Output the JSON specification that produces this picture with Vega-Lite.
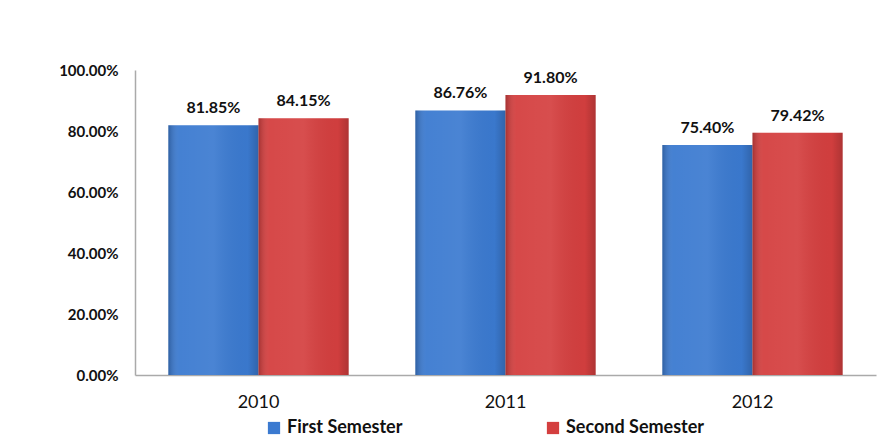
{
  "$schema": "https://vega.github.io/schema/vega-lite/v6.json",
  "width": 741,
  "height": 305,
  "padding": {"left": 58, "top": 63, "right": 10, "bottom": 10},
  "background": "white",
  "config": {
    "view": {"stroke": null},
    "font": "Lato"
  },
  "data": {
    "values": [
      {"year": "2010", "semester": "First Semester", "value": 0.8185},
      {"year": "2010", "semester": "Second Semester", "value": 0.8415},
      {"year": "2011", "semester": "First Semester", "value": 0.8676},
      {"year": "2011", "semester": "Second Semester", "value": 0.918},
      {"year": "2012", "semester": "First Semester", "value": 0.754},
      {"year": "2012", "semester": "Second Semester", "value": 0.7942}
    ]
  },
  "encoding": {
    "x": {
      "field": "year", "type": "nominal",
      "scale": {"paddingInner": 0.27, "paddingOuter": 0.135},
      "axis": {"title": null, "labelAngle": 0, "labelFontSize": 18, "labelColor": "#111", "labelPadding": 18, "ticks": false, "domainColor": "#aaa", "domainWidth": 1.5}
    },
    "xOffset": {"field": "semester", "type": "nominal", "scale": {"paddingInner": 0, "paddingOuter": 0}},
    "y": {
      "field": "value", "type": "quantitative",
      "scale": {"domain": [0, 1], "nice": false},
      "axis": {"title": null, "format": ".2%", "values": [0, 0.2, 0.4, 0.6, 0.8, 1], "labelOverlap": false, "grid": false, "ticks": false, "labelFontSize": 15, "labelFontWeight": "bold", "labelColor": "#111", "labelPadding": 17, "domainColor": "#aaa", "domainWidth": 1.5}
    }
  },
  "layer": [
    {
      "mark": {"type": "bar"},
      "encoding": {
        "color": {
          "field": "semester", "type": "nominal",
          "scale": {"domain": ["First Semester", "Second Semester"], "range": ["#3b7ad0", "#d43f3f"]},
          "legend": {
            "title": null, "orient": "none", "legendX": 130, "legendY": 349, "direction": "horizontal",
            "symbolType": "square", "symbolSize": 150, "symbolStrokeWidth": 0,
            "labelFontSize": 18, "labelFontWeight": "bold", "labelColor": "#111",
            "labelOffset": 4, "columnPadding": 141, "labelLimit": 300
          }
        }
      }
    },
    {
      "mark": {
        "type": "bar",
        "fill": {
          "gradient": "linear", "x1": 0, "x2": 1, "y1": 0, "y2": 0,
          "stops": [
            {"offset": 0, "color": "rgba(0,0,0,0.22)"},
            {"offset": 0.12, "color": "rgba(255,255,255,0.05)"},
            {"offset": 0.5, "color": "rgba(255,255,255,0.08)"},
            {"offset": 0.88, "color": "rgba(0,0,0,0.02)"},
            {"offset": 1, "color": "rgba(0,0,0,0.18)"}
          ]
        }
      },
      "encoding": {}
    },
    {
      "mark": {"type": "text", "dy": -17, "fontSize": 16, "fontWeight": "bold", "color": "#111"},
      "encoding": {
        "text": {"field": "value", "type": "quantitative", "format": ".2%"}
      }
    }
  ]
}
